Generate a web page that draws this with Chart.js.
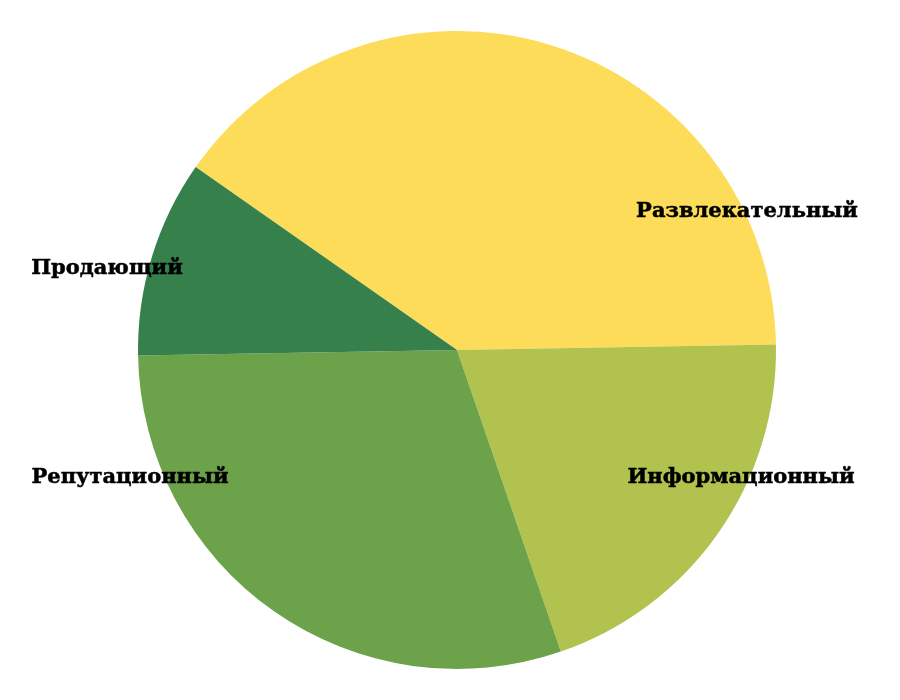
<!DOCTYPE html>
<html>
<head>
<meta charset="utf-8">
<script src="https://cdn.jsdelivr.net/npm/chart.js@4"></script>
<style>
  html, body { margin: 0; padding: 0; background: #fff; }
  #wrap { width: 900px; height: 700px; }
</style>
</head>
<body>
<div id="wrap"><canvas id="pieChart"></canvas></div>
<script>
// Chart data
const categories = ['Развлекательный', 'Информационный', 'Репутационный', 'Продающий'];
const shares = [40, 20, 30, 10];
const sliceColors = ['#FCDC58', '#B1C24E', '#6CA34A', '#35804B'];

// label centres, in canvas pixels (same order as categories)
const labelSpots = [[747, 212], [741, 478], [130, 478], [107, 269]];

const sideLabels = {
    id: 'sideLabels',
    afterDatasetsDraw(chart) {
        const ctx = chart.ctx;
        ctx.save();
        ctx.font = 'bold 21px "DejaVu Serif"';
        ctx.fillStyle = '#000';
        ctx.strokeStyle = '#000';
        ctx.lineWidth = 0.5;
        ctx.textAlign = 'center';
        ctx.textBaseline = 'middle';
        chart.data.labels.forEach(function(label, i) {
            ctx.fillText(label, labelSpots[i][0], labelSpots[i][1]);
            ctx.strokeText(label, labelSpots[i][0], labelSpots[i][1]);
        });
        ctx.restore();
    }
};

const ctx = document.getElementById('pieChart').getContext('2d');
const pieChart = new Chart(ctx, {
    type: 'pie',
    data: {
        labels: categories,
        datasets: [{
            data: shares,
            backgroundColor: sliceColors,
            borderWidth: 0
        }]
    },
    options: {
        responsive: true,
        maintainAspectRatio: false,
        animation: false,
        rotation: 305,
        layout: {
            padding: { left: 138, right: 124, top: 31, bottom: 31 }
        },
        plugins: {
            legend: { display: false },
            tooltip: { enabled: false }
        }
    },
    plugins: [sideLabels]
});
</script>
</body>
</html>
